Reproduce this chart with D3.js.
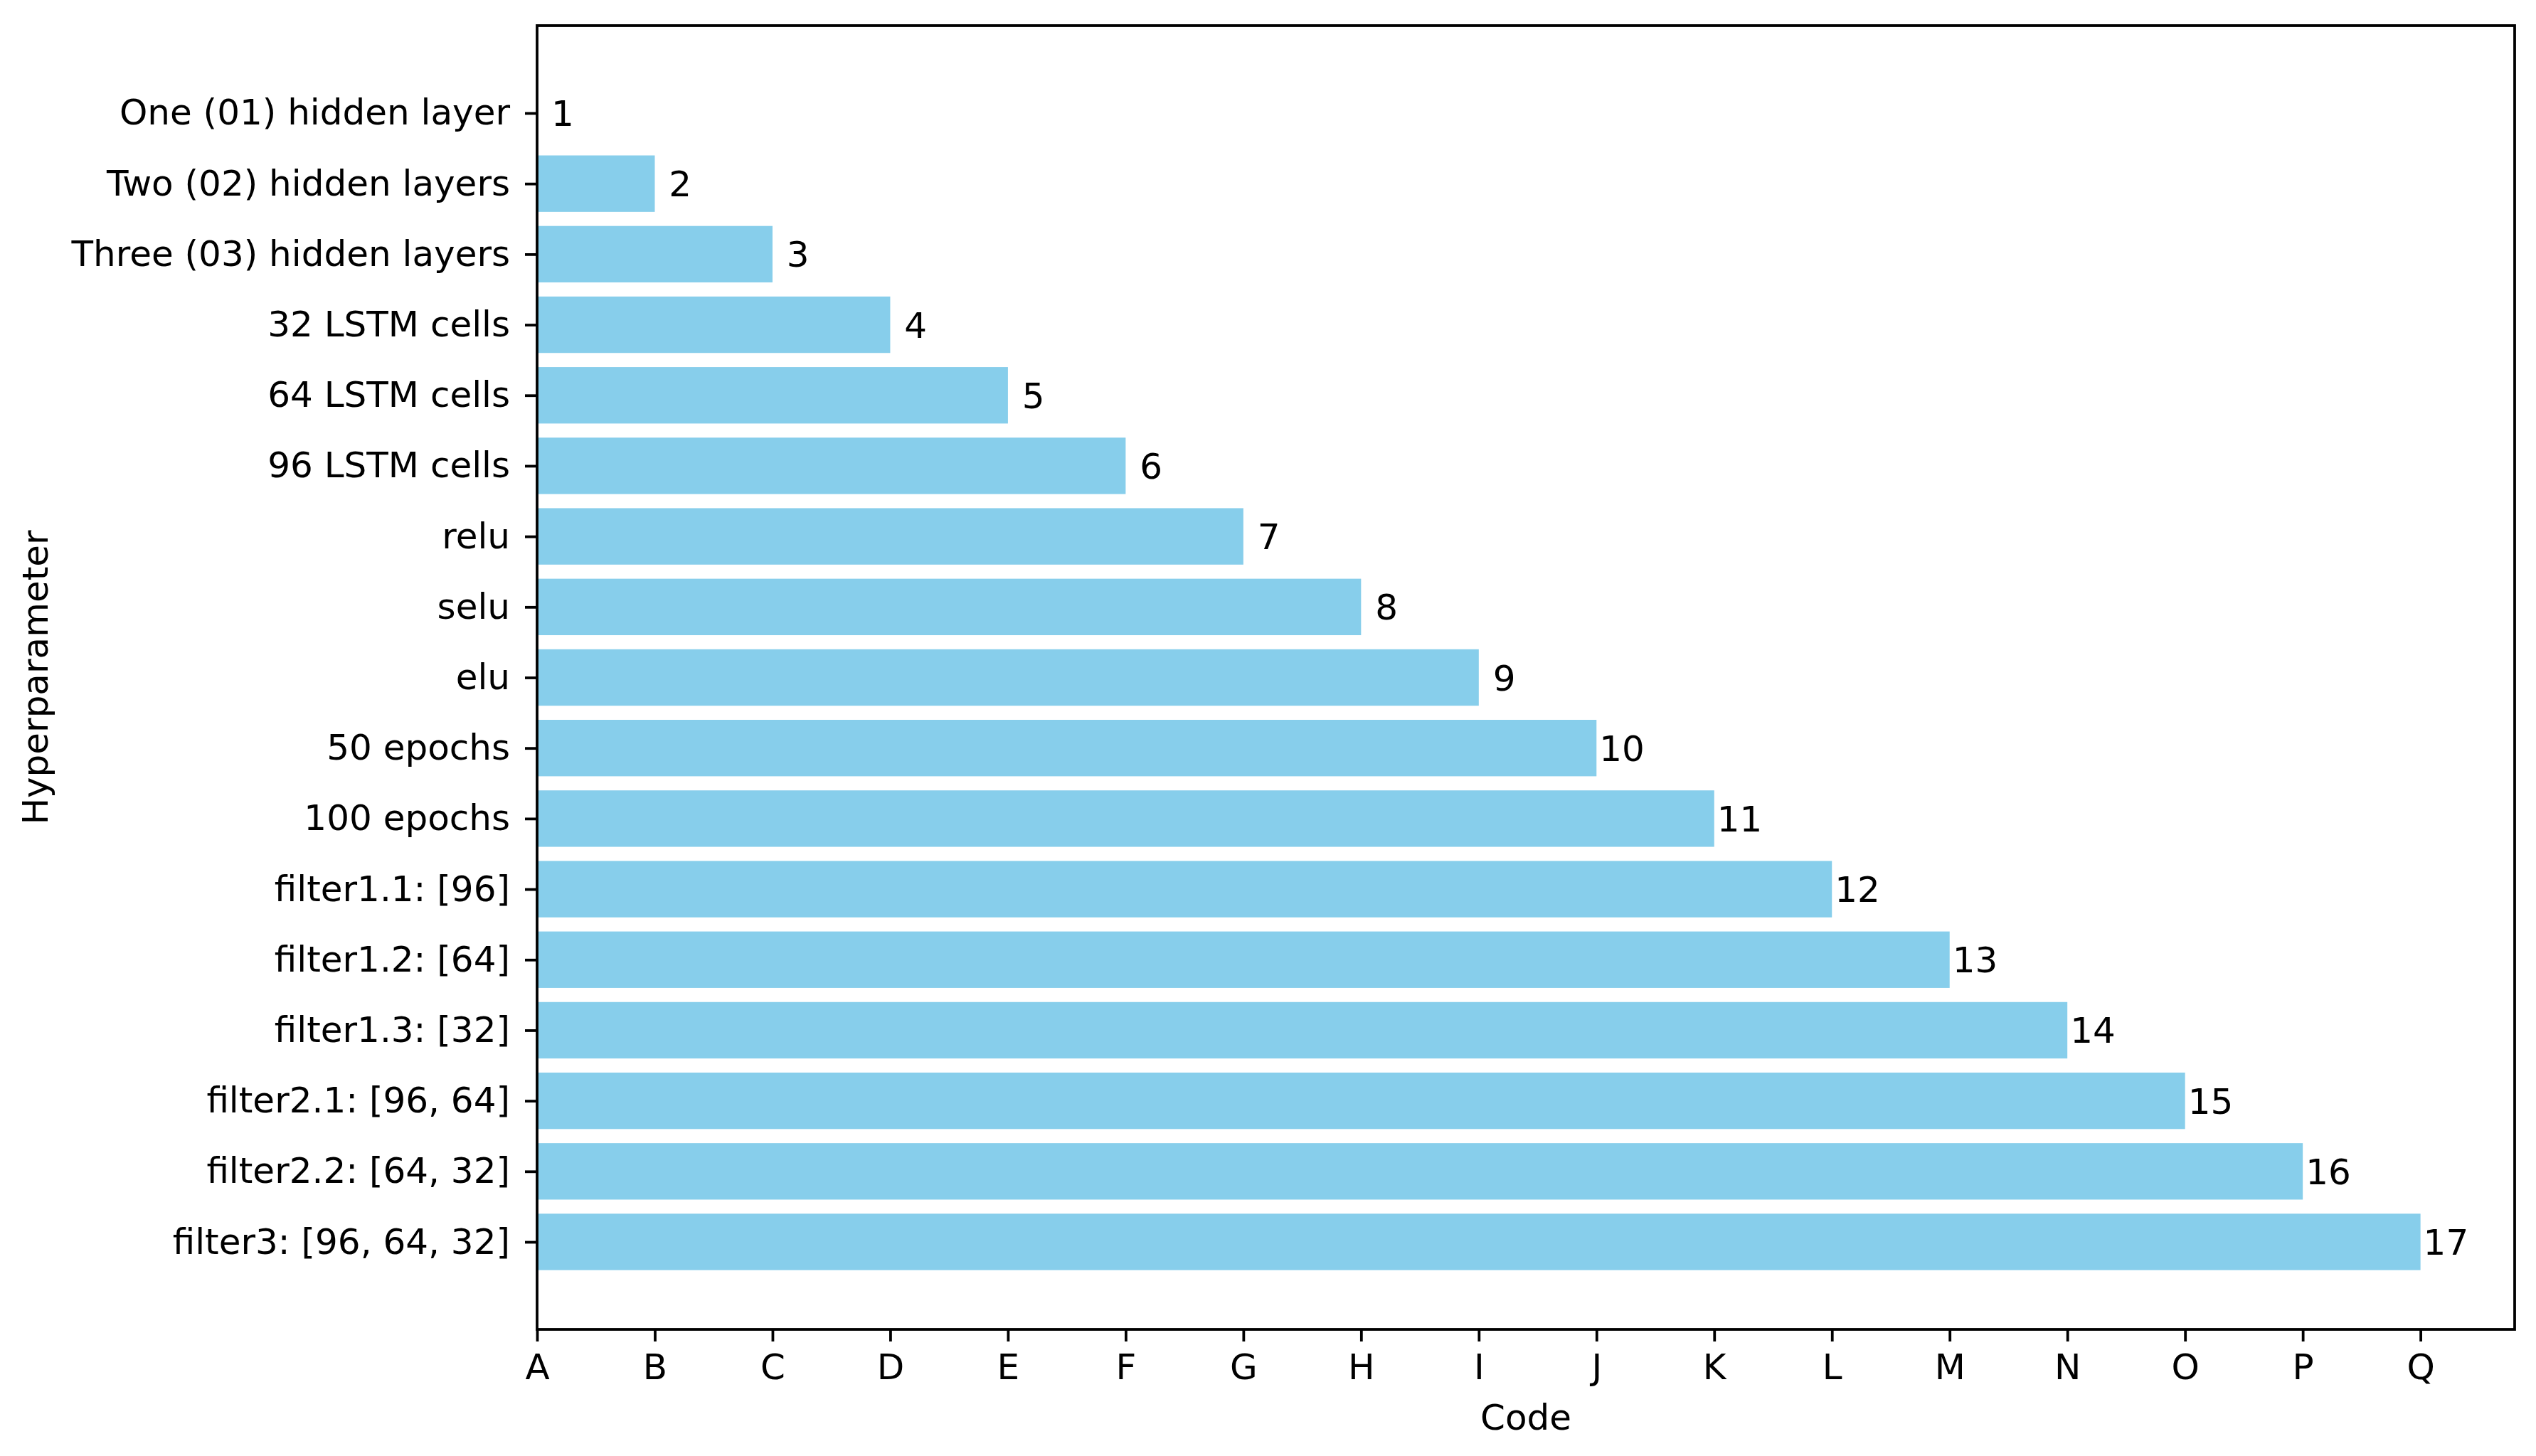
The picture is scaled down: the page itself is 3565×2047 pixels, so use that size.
<!DOCTYPE html>
<html>
<head>
<meta charset="utf-8">
<script src="https://cdn.jsdelivr.net/npm/d3@7"></script>
<style>
  html, body { margin: 0; padding: 0; background: #ffffff; }
  svg { display: block; }
  text { font-family: "DejaVu Sans", sans-serif; fill: #000; }
</style>
</head>
<body>
<svg id="chart" width="3565" height="2047"></svg>
<script>
const categories = [
  "One (01) hidden layer",
  "Two (02) hidden layers",
  "Three (03) hidden layers",
  "32 LSTM cells",
  "64 LSTM cells",
  "96 LSTM cells",
  "relu",
  "selu",
  "elu",
  "50 epochs",
  "100 epochs",
  "filter1.1: [96]",
  "filter1.2: [64]",
  "filter1.3: [32]",
  "filter2.1: [96, 64]",
  "filter2.2: [64, 32]",
  "filter3: [96, 64, 32]"
];
const values = [0, 1, 2, 3, 4, 5, 6, 7, 8, 9, 10, 11, 12, 13, 14, 15, 16];
const valueLabels = ["1","2","3","4","5","6","7","8","9","10","11","12","13","14","15","16","17"];
const tickLabels = ["A","B","C","D","E","F","G","H","I","J","K","L","M","N","O","P","Q"];
const xTitle = "Code";
const yTitle = "Hyperparameter";

(function () {
const W = 3565, H = 2047;
const mLeft = 755, mRight = 3535, mTop = 36, mBottom = 1869;
const fontPx = 50;
const barColor = "#87CEEB";

const svg = d3.select("#chart");
svg.append("rect").attr("width", W).attr("height", H).attr("fill", "#fff");

const xMax = d3.max(values);
const x = d3.scaleLinear().domain([0, xMax * 1.05]).range([mLeft, mRight]);
const n = categories.length;
const pad = 0.4 + 0.05 * (n - 1 + 0.8);
const y = d3.scaleLinear().domain([-pad, n - 1 + pad]).range([mTop, mBottom]);
const barH = (y(0.8) - y(0));

// bars
svg.append("g").selectAll("rect").data(values).join("rect")
  .attr("x", x(0))
  .attr("y", (d, i) => y(i) - barH / 2)
  .attr("width", d => x(d) - x(0))
  .attr("height", barH)
  .attr("fill", barColor);

// value labels
svg.append("g").selectAll("text").data(values).join("text")
  .attr("x", d => x(d) + 4)
  .attr("y", (d, i) => y(i))
  .attr("dy", "0.36em")
  .style("white-space", "pre")
  .attr("font-size", fontPx)
  .text((d, i) => valueLabels[i].padStart(2, " "));

// axes
const xAxis = d3.axisBottom(x)
  .tickValues(d3.range(tickLabels.length))
  .tickFormat(i => tickLabels[i])
  .tickSize(17).tickPadding(17);
const gx = svg.append("g").attr("transform", `translate(0,${mBottom})`).call(xAxis);
gx.select(".domain").remove();
gx.selectAll("line").attr("stroke", "#000").attr("stroke-width", 3.8);
gx.selectAll("text").attr("font-size", fontPx).attr("font-family", "DejaVu Sans");

const yAxis = d3.axisLeft(y)
  .tickValues(d3.range(n))
  .tickFormat(i => categories[i])
  .tickSize(17).tickPadding(21);
const gy = svg.append("g").attr("transform", `translate(${mLeft},0)`).call(yAxis);
gy.select(".domain").remove();
gy.selectAll("line").attr("stroke", "#000").attr("stroke-width", 3.8);
gy.selectAll("text").attr("font-size", fontPx).attr("font-family", "DejaVu Sans");

// frame
svg.append("rect")
  .attr("x", mLeft).attr("y", mTop)
  .attr("width", mRight - mLeft).attr("height", mBottom - mTop)
  .attr("fill", "none").attr("stroke", "#000").attr("stroke-width", 3.8);

// axis titles
svg.append("text")
  .attr("x", (mLeft + mRight) / 2).attr("y", 2010)
  .attr("text-anchor", "middle").attr("font-size", fontPx)
  .text(xTitle);
svg.append("text")
  .attr("transform", `translate(67,${(mTop + mBottom) / 2}) rotate(-90)`)
  .attr("text-anchor", "middle").attr("font-size", fontPx)
  .text(yTitle);
})();
</script>
</body>
</html>
